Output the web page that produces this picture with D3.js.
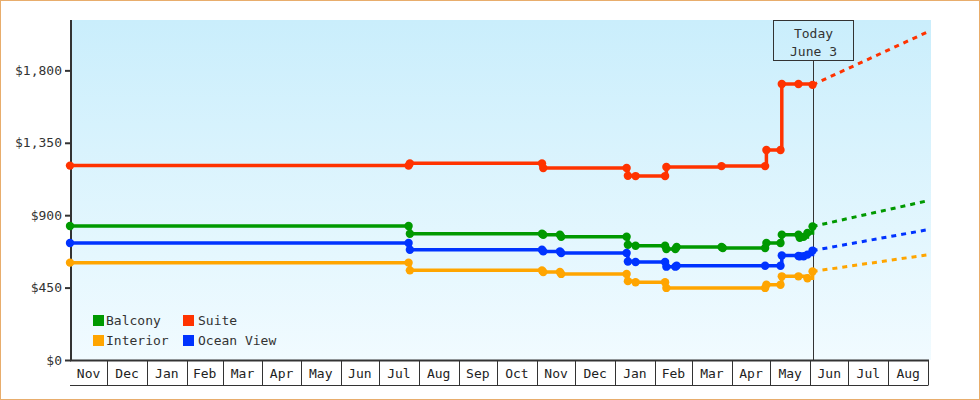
<!DOCTYPE html>
<html>
<head>
<meta charset="utf-8">
<script src="https://cdn.jsdelivr.net/npm/d3@7"></script>
<style>
  body { margin: 0; background: #fff; }
  svg { display: block; font-family: "DejaVu Sans Mono", monospace; font-size: 13px; }
</style>
</head>
<body>
<svg id="chart" width="980" height="400"></svg>
<script>
const seriesNames = ['Balcony', 'Suite', 'Interior', 'Ocean View'];
const seriesColors = ['#009900', '#ff3300', '#ffa500', '#0033ff'];

// price observations, [date, price]
const balcony = [
  ['2010-11-02', 833], ['2011-07-24', 833], ['2011-07-25', 785],
  ['2011-11-05', 785], ['2011-11-06', 778], ['2011-11-19', 778], ['2011-11-20', 766],
  ['2012-01-10', 766], ['2012-01-11', 716], ['2012-01-17', 710],
  ['2012-02-09', 710], ['2012-02-10', 690], ['2012-02-17', 690], ['2012-02-18', 702],
  ['2012-03-24', 702], ['2012-03-25', 696], ['2012-04-27', 696], ['2012-04-28', 727],
  ['2012-05-09', 727], ['2012-05-10', 779], ['2012-05-23', 779], ['2012-05-24', 760],
  ['2012-05-27', 765], ['2012-05-30', 790], ['2012-06-03', 830]
];
const suite = [
  ['2010-11-02', 1208], ['2011-07-24', 1208], ['2011-07-25', 1222],
  ['2011-11-05', 1222], ['2011-11-06', 1193],
  ['2012-01-10', 1193], ['2012-01-11', 1145], ['2012-01-17', 1143],
  ['2012-02-09', 1143], ['2012-02-10', 1200], ['2012-03-24', 1205],
  ['2012-04-27', 1205], ['2012-04-28', 1305], ['2012-05-09', 1305], ['2012-05-10', 1715],
  ['2012-05-23', 1715], ['2012-06-03', 1710]
];
const interior = [
  ['2010-11-02', 605], ['2011-07-24', 605], ['2011-07-25', 557],
  ['2011-11-05', 557], ['2011-11-06', 547], ['2011-11-19', 547], ['2011-11-20', 535],
  ['2012-01-10', 535], ['2012-01-11', 490], ['2012-01-17', 483],
  ['2012-02-09', 483], ['2012-02-10', 448],
  ['2012-04-27', 448], ['2012-04-28', 468], ['2012-05-09', 468], ['2012-05-10', 520],
  ['2012-05-23', 520], ['2012-05-30', 508], ['2012-06-03', 550]
];
const oceanView = [
  ['2010-11-02', 727], ['2011-07-24', 727], ['2011-07-25', 685],
  ['2011-11-05', 685], ['2011-11-06', 675], ['2011-11-19', 675], ['2011-11-20', 665],
  ['2012-01-10', 665], ['2012-01-11', 612], ['2012-01-17', 609],
  ['2012-02-09', 609], ['2012-02-10', 580], ['2012-02-17', 580], ['2012-02-18', 586],
  ['2012-04-27', 586], ['2012-05-09', 586], ['2012-05-10', 650],
  ['2012-05-23', 646], ['2012-05-24', 645], ['2012-05-27', 645], ['2012-05-30', 655],
  ['2012-06-03', 680]
];

const projectionDate = '2012-09-01';
const projectedPrices = [990, 2040, 654, 810];
const today = '2012-06-03', todayLabel = ['Today', 'June 3'];
const priceTicks = [0, 450, 900, 1350, 1800];
const startDate = '2010-11-02', endDate = '2012-09-01', maxPrice = 2113;

const margin = {left: 70, right: 52, top: 20, bottom: 40};

function createPriceChart(targetSVG) {
  const parse = d3.timeParse('%Y-%m-%d');
  const svg = d3.select(targetSVG);
  const width = +svg.attr('width'), height = +svg.attr('height');
  const data = [balcony, suite, interior, oceanView];

  const x = d3.scaleTime()
    .domain([parse(startDate), parse(endDate)])
    .range([margin.left, width - margin.right]);
  const y = d3.scaleLinear()
    .domain([0, maxPrice])
    .range([height - margin.bottom, margin.top]);

  const defs = svg.append('defs');
  const grad = defs.append('linearGradient')
    .attr('id', 'bg').attr('x1', 0).attr('y1', 0).attr('x2', 0).attr('y2', 1);
  grad.append('stop').attr('offset', '0%').attr('stop-color', '#caeefc');
  grad.append('stop').attr('offset', '100%').attr('stop-color', '#f1fbff');

  // outer frame
  svg.append('rect')
    .attr('x', 0.5).attr('y', 0.5)
    .attr('width', width - 1).attr('height', height - 1)
    .attr('fill', '#fff').attr('stroke', '#e8ad6c');

  svg.append('rect')
    .attr('x', margin.left).attr('y', margin.top)
    .attr('width', width - margin.right - margin.left + 3)
    .attr('height', height - margin.bottom - margin.top)
    .attr('fill', 'url(#bg)');

  // month boxes under the plot
  const x0 = x.range()[0], x1 = x.range()[1];
  const bottom = y(0);
  const months = d3.timeMonth.range(d3.timeMonth.floor(x.domain()[0]), x.domain()[1]);
  const monthAxis = svg.append('g');

  monthAxis.selectAll('line.sep').data(months.slice(1).concat([x.domain()[1]])).enter()
    .append('line')
    .attr('class', 'sep')
    .attr('stroke', '#333')
    .attr('x1', function(d) { return Math.round(x(d)) + 0.5; })
    .attr('x2', function(d) { return Math.round(x(d)) + 0.5; })
    .attr('y1', bottom).attr('y2', bottom + 25);

  monthAxis.append('line')
    .attr('stroke', '#333')
    .attr('x1', x0).attr('x2', x1 + 0.5)
    .attr('y1', bottom + 25.5).attr('y2', bottom + 25.5);

  monthAxis.selectAll('text').data(months).enter()
    .append('text')
    .attr('fill', '#222')
    .attr('text-anchor', 'middle')
    .attr('x', function(d) {
      const a = Math.max(x0, x(d)), b = Math.min(x1, x(d3.timeMonth.offset(d, 1)));
      return (a + b) / 2;
    })
    .attr('y', bottom + 18)
    .text(function(d) { return d3.timeFormat('%b')(d); });

  svg.append('line')
    .attr('stroke', '#333').attr('stroke-width', 2)
    .attr('x1', x0).attr('x2', x1 + 1)
    .attr('y1', bottom + 0.5).attr('y2', bottom + 0.5);

  // y axis
  const yAxis = svg.append('g')
    .attr('transform', `translate(${x0 + 1},0)`)
    .call(d3.axisLeft(y).tickValues(priceTicks).tickSize(6).tickPadding(3)
      .tickFormat(d3.format('$,')));
  yAxis.select('.domain').remove();
  yAxis.selectAll('.tick line').attr('stroke', '#333').attr('stroke-width', 2);
  yAxis.selectAll('.tick text')
    .attr('fill', '#333')
    .style('font', '13px "DejaVu Sans Mono", monospace');

  svg.append('line')
    .attr('stroke', '#333').attr('stroke-width', 2)
    .attr('x1', x0 + 1).attr('x2', x0 + 1)
    .attr('y1', margin.top).attr('y2', bottom + 1);

  // today marker
  const tx = Math.round(x(parse(today))) + 0.5;
  svg.append('line')
    .attr('stroke', '#333')
    .attr('x1', tx).attr('x2', tx)
    .attr('y1', margin.top + 41).attr('y2', bottom);
  svg.append('rect')
    .attr('x', tx - 40).attr('y', margin.top + 0.5)
    .attr('width', 80).attr('height', 40)
    .attr('fill', 'none').attr('stroke', '#333');
  svg.selectAll('text.today').data(todayLabel).enter()
    .append('text')
    .attr('class', 'today')
    .attr('fill', '#333')
    .attr('text-anchor', 'middle')
    .attr('x', tx)
    .attr('y', function(d, i) { return margin.top + 17.5 + i * 18; })
    .text(function(d) { return d; });

  // series
  const line = d3.line()
    .curve(d3.curveStepAfter)
    .x(function(d) { return x(parse(d[0])); })
    .y(function(d) { return y(d[1]); });

  const graph = svg.append('g');
  data.forEach(function(series, i) {
    const last = series[series.length - 1];
    graph.append('path')
      .datum([last, [projectionDate, projectedPrices[i]]])
      .attr('fill', 'none')
      .attr('stroke', seriesColors[i])
      .attr('stroke-width', 3)
      .attr('stroke-dasharray', '5,5')
      .attr('d', d3.line()
        .x(function(d) { return x(parse(d[0])); })
        .y(function(d) { return y(d[1]); }));

    graph.append('path')
      .datum(series)
      .attr('fill', 'none')
      .attr('stroke', seriesColors[i])
      .attr('stroke-width', 3.5)
      .attr('d', line);

    graph.selectAll('circle.s' + i).data(series).enter()
      .append('circle')
      .attr('class', 's' + i)
      .attr('fill', seriesColors[i])
      .attr('r', 4.2)
      .attr('cx', function(d) { return x(parse(d[0])); })
      .attr('cy', function(d) { return y(d[1]); });
  });

  // legend
  const legend = svg.append('g')
    .selectAll('g').data(seriesNames).enter()
    .append('g')
    .attr('transform', function(d, i) {
      return `translate(${93 + (i % 2) * 90},${315 + Math.floor(i / 2) * 20})`;
    });
  legend.append('rect')
    .attr('width', 11).attr('height', 11)
    .attr('fill', function(d, i) { return seriesColors[i]; });
  legend.append('text')
    .attr('fill', '#333')
    .attr('x', function(d, i) { return i % 2 ? 15 : 13; })
    .attr('y', 10)
    .text(function(d) { return d; });
}

createPriceChart('#chart');
</script>
</body>
</html>
